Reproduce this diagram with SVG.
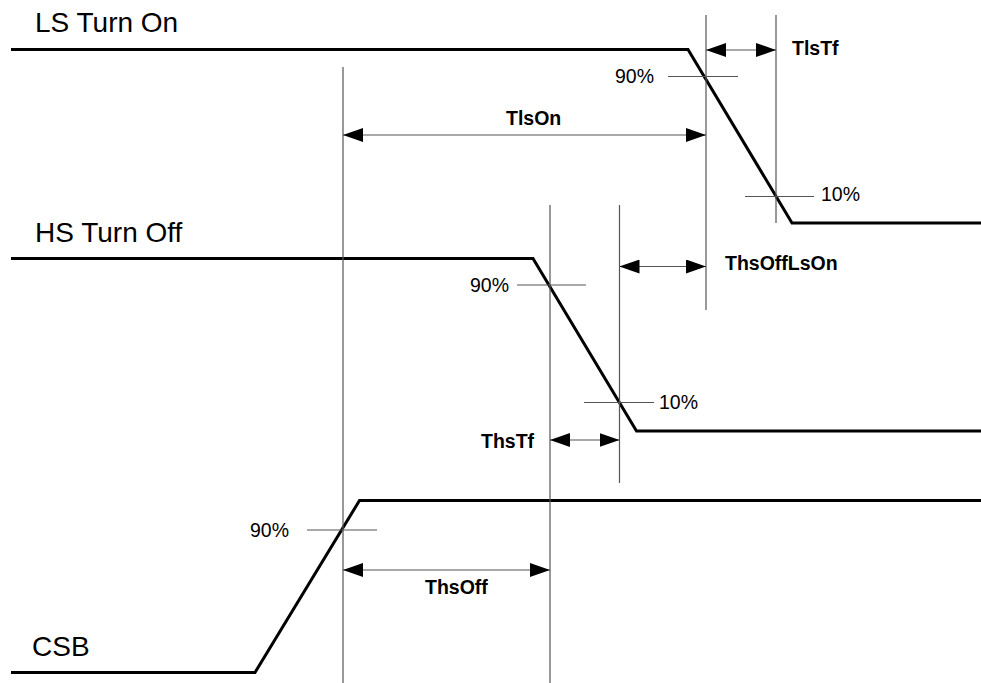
<svg xmlns="http://www.w3.org/2000/svg" width="981" height="683" viewBox="0 0 981 683">
<defs>
<style>
.wave{fill:none;stroke:#000;stroke-width:3;stroke-linejoin:miter}
.guide{fill:none;stroke:#555;stroke-width:1.2}
.dim{fill:none;stroke:#555;stroke-width:1.2;marker-start:url(#ah);marker-end:url(#ah)}
.sig{font-family:"Liberation Sans",Arial,sans-serif;font-size:28px;fill:#000}
.pct{font-family:"Liberation Sans",Arial,sans-serif;font-size:19.5px;fill:#000}
.lbl{font-family:"Liberation Sans",Arial,sans-serif;font-size:19.5px;font-weight:bold;fill:#000}
</style>
<marker id="ah" viewBox="0 0 20 14" refX="20" refY="7" markerWidth="20" markerHeight="14" markerUnits="userSpaceOnUse" orient="auto-start-reverse">
<path d="M0,0 L20,7 L0,14 Z" fill="#000"/>
</marker>
</defs>
<rect width="981" height="683" fill="#fff"/>

<g id="ls-turn-on">
<text class="sig" x="35" y="32">LS Turn On</text>
<polyline class="wave" points="11,49.5 688,49.5 792,223 981,223"/>
<line class="guide" x1="668" y1="76.5" x2="738" y2="76.5"/>
<text class="pct" x="615" y="83">90%</text>
<line class="guide" x1="745" y1="196.5" x2="814" y2="196.5"/>
<text class="pct" x="821" y="201">10%</text>
</g>

<g id="hs-turn-off">
<text class="sig" x="35" y="242">HS Turn Off</text>
<polyline class="wave" points="11,258.5 533,258.5 636.5,431 981,431"/>
<line class="guide" x1="517" y1="285" x2="586" y2="285"/>
<text class="pct" x="470" y="292">90%</text>
<line class="guide" x1="584" y1="402.5" x2="654" y2="402.5"/>
<text class="pct" x="659" y="409">10%</text>
</g>

<g id="csb">
<text class="sig" x="32" y="656">CSB</text>
<polyline class="wave" points="11,672.5 255,672.5 359.5,500.5 981,500.5"/>
<line class="guide" x1="307" y1="530" x2="377" y2="530"/>
<text class="pct" x="250" y="537">90%</text>
</g>

<g id="connectors">
<line class="guide" x1="343" y1="67" x2="343" y2="683"/>
<line class="guide" x1="550" y1="205" x2="550" y2="683"/>
<line class="guide" x1="619.5" y1="205" x2="619.5" y2="483"/>
<line class="guide" x1="706" y1="15" x2="706" y2="310"/>
<line class="guide" x1="776" y1="15" x2="776" y2="223"/>
<line class="dim" x1="706" y1="50" x2="776" y2="50"/>
<line class="dim" x1="343" y1="135" x2="706" y2="135"/>
<line class="dim" x1="619.5" y1="266.5" x2="706" y2="266.5"/>
<line class="dim" x1="550" y1="440" x2="619.5" y2="440"/>
<line class="dim" x1="343" y1="570" x2="550" y2="570"/>
</g>

<g id="labels">
<text class="lbl" x="792" y="55">TlsTf</text>
<text class="lbl" x="506" y="125">TlsOn</text>
<text class="lbl" x="725" y="270">ThsOffLsOn</text>
<text class="lbl" x="481" y="448">ThsTf</text>
<text class="lbl" x="425" y="594">ThsOff</text>
</g>
</svg>
